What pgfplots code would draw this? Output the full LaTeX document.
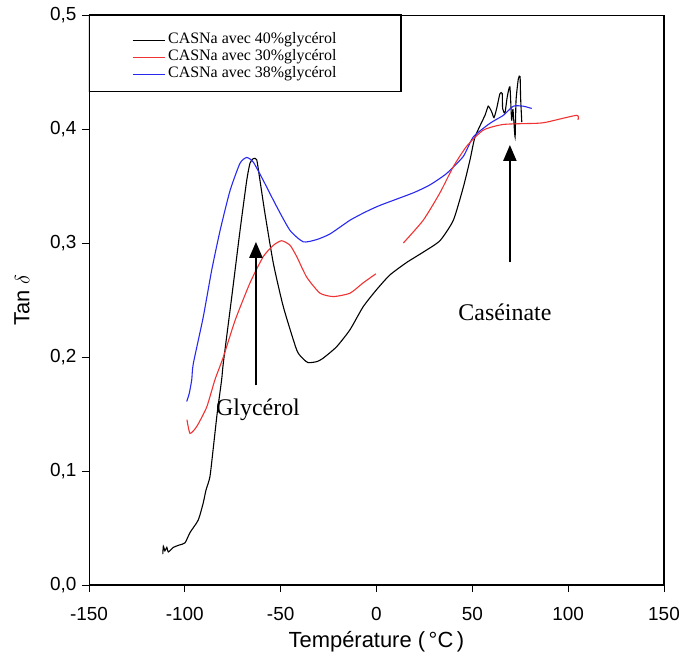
\documentclass[border=0pt]{standalone}
\usepackage{pgfplots}
\pgfplotsset{compat=1.18}
\usetikzlibrary{arrows.meta}
\usepackage{fontspec}
\setmainfont{Liberation Serif}
\setsansfont{Liberation Sans}
\definecolor{myred}{RGB}{240,50,50}
\definecolor{myblue}{RGB}{40,40,240}
\begin{document}
\begin{tikzpicture}
\useasboundingbox (-89bp,-81bp) rectangle (590bp,585bp);
\begin{axis}[
  scale only axis, width=575bp, height=570bp,
  xmin=-150, xmax=150, ymin=0, ymax=0.5,
  xtick={-150,-100,...,150}, ytick={0,0.1,...,0.5},
  xtick pos=left, ytick pos=left, tick align=outside,
  major tick length=7bp,
  axis line style={line width=0.9pt},
  tick style={line width=0.9pt, black},
  /pgf/number format/assume math mode=true,
  tick label style={font=\sffamily\fontsize{19}{19}\selectfont},
  yticklabel style={/tikz/xshift=-2bp, /pgf/number format/.cd, fixed, fixed zerofill, precision=1, use comma},
  xticklabel style={yshift=-12bp},
  xlabel={Température (\,°C\,)},
  ylabel={Tan $\delta$},
  label style={font=\sffamily\fontsize{22}{22}\selectfont},
  xlabel style={at={(axis description cs:0.5,-0.1)}, anchor=center},
  ylabel style={at={(axis description cs:-0.1165,0.5)}, anchor=center},
  legend image code/.code={\draw[#1] (0bp,0bp) -- (32bp,0bp);},
  legend style={draw=none, fill=none, at={(axis cs:-127.6,0.4855)}, anchor=north west,
    inner sep=0pt, row sep=0pt, column sep=2bp,
    font=\fontsize{16}{16}\selectfont,
    nodes={inner ysep=1bp, inner xsep=1bp, text height=11bp, text depth=4bp}},
  legend cell align=left,
  every axis plot/.append style={line width=1.1bp, smooth, tension=0.35},
]
\addplot[black] coordinates {
(-111.5,0.027) (-111.2,0.034) (-110.4,0.030) (-109.4,0.033) (-108.6,0.029)
(-106.0,0.033) (-103,0.035) (-99.9,0.037) (-97.3,0.046) (-93.0,0.057)
(-90.4,0.072) (-89.0,0.083) (-86.9,0.095) (-85.1,0.121) (-83.1,0.151)
(-80.8,0.180) (-79.9,0.195) (-75.5,0.253) (-71.2,0.311) (-67.7,0.355)
(-66.0,0.370) (-64.3,0.374) (-62.5,0.373) (-60.8,0.355) (-58.2,0.326)
(-53.8,0.282) (-48.6,0.244) (-41.6,0.206) (-38,0.198) (-35.6,0.195)
(-31,0.196) (-27.8,0.199) (-20.8,0.209) (-13.8,0.224) (-7.0,0.244)
(0,0.259) (7,0.272) (15.8,0.283) (24.4,0.292) (33.1,0.302) (40.1,0.320)
(45.3,0.349) (48.8,0.373) (51.4,0.393) (56.6,0.412) (58.3,0.420)
(60.1,0.415) (61.3,0.410) (62.7,0.418) (64.4,0.431) (65.6,0.431)
(65.8,0.418) (67.0,0.414) (68.2,0.428) (69.6,0.437) (70.5,0.408)
(71.2,0.417) (72.3,0.393) (72.8,0.425) (74.0,0.444) (74.9,0.446)
(75.2,0.427) (75.8,0.406)
};
\addlegendentry{CASNa avec 40\%glycérol}
\addplot[myred] coordinates {
(-98.9,0.145) (-97.3,0.133) (-93.8,0.139) (-88.6,0.156) (-84.3,0.180)
(-79.9,0.200) (-73.8,0.232) (-66.0,0.265) (-59.1,0.288) (-53.8,0.298)
(-49.5,0.302) (-45.1,0.298) (-41.6,0.288) (-36.4,0.270) (-29.5,0.256)
(-22.5,0.253) (-13.8,0.256) (-7.0,0.265) (-0.3,0.273)
};
\addlegendentry{CASNa avec 30\%glycérol}
\addplot[myblue] coordinates {
(-99.0,0.161) (-97.7,0.168) (-96.4,0.180) (-95.6,0.194) (-90.4,0.235)
(-86.0,0.276) (-81.6,0.311) (-76.4,0.346) (-71.2,0.370) (-67.7,0.375)
(-64.3,0.371) (-59.1,0.355) (-52.1,0.332) (-45.1,0.311) (-38.2,0.301)
(-31.2,0.303) (-24.2,0.308) (-13.8,0.320) (-6.0,0.327) (1.8,0.333)
(19.2,0.344) (27.9,0.351) (36.6,0.361) (45.3,0.376) (50.5,0.393)
(59.2,0.405) (66.2,0.412) (71.4,0.420) (76.6,0.420) (81.0,0.418)
};
\addlegendentry{CASNa avec 38\%glycérol}
\addplot[myred, forget plot] coordinates {
(14.0,0.300) (24.4,0.320) (33.1,0.344) (40.1,0.367) (47.1,0.385)
(55.7,0.399) (66.2,0.404) (83.6,0.405) (88.8,0.406) (104.4,0.412) (105.1,0.408)
};
% legend frame
\draw[line width=1.6bp] (axis cs:-150,0.5) -- (axis cs:12.8,0.5) -- (axis cs:12.8,0.4325);
\draw[line width=1.0bp] (axis cs:12.8,0.4325) -- (axis cs:-150,0.4325);
\draw[line width=2.4bp] (axis cs:-150,0.4325) -- (axis cs:-150,0.5);
% thicker bottom and right axis lines
\draw[line width=1.6bp] (rel axis cs:0,0) -- (rel axis cs:1,0);
\draw[line width=2.2bp] (rel axis cs:1,0) -- (rel axis cs:1,1);
% annotations
\draw[line width=2.2bp, -{Triangle[length=16bp,width=13bp]}] (axis cs:-62.9,0.175) -- (axis cs:-62.9,0.301);
\node[font=\fontsize{24}{24}\selectfont] at (axis cs:-61.8,0.154) {Glycérol};
\draw[line width=2.2bp, -{Triangle[length=16bp,width=13bp]}] (axis cs:69.6,0.283) -- (axis cs:69.6,0.386);
\node[font=\fontsize{24}{24}\selectfont] at (axis cs:67.0,0.239) {Caséinate};
\end{axis}
\end{tikzpicture}
\end{document}
